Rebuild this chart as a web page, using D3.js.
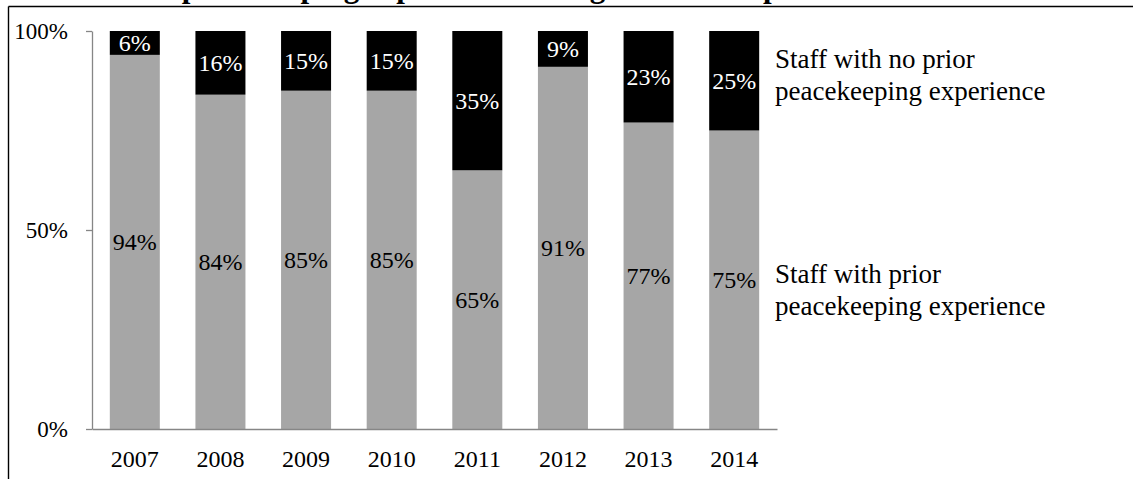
<!DOCTYPE html>
<html>
<head>
<meta charset="utf-8">
<script src="https://cdn.jsdelivr.net/npm/d3@7/dist/d3.min.js"></script>
<style>
  html, body { margin: 0; padding: 0; background: #fff; }
  svg { display: block; }
  svg text { font-family: "Liberation Serif", "Tinos", "Times New Roman", "DejaVu Serif", serif !important; }
</style>
</head>
<body>
<svg id="chart" width="1133" height="479"></svg>
<script>
// Recruitment years
const years = ["2007", "2008", "2009", "2010", "2011", "2012", "2013", "2014"];
// Share of staff with prior peacekeeping experience (%)
const withPrior = [94, 84, 85, 85, 65, 91, 77, 75];
// Share of staff with no prior peacekeeping experience (%)
const noPrior = [6, 16, 15, 15, 35, 9, 23, 25];
// Y axis ticks (fractions)
const yTicks = [0, 0.5, 1];
// Series names shown beside the last column
const seriesNames = [
  ["Staff with no prior", "peacekeeping experience"],
  ["Staff with prior", "peacekeeping experience"]
];
const titleText = "Prior peacekeeping experience among SMG Staff per mission 2007-2014";

const serif = "'Liberation Serif', 'Tinos', 'Times New Roman', 'DejaVu Serif', serif";
const svg = d3.select("#chart");
const axisColor = "#868686";
const greyFill = "#a6a6a6";

// Outer frame (top and left edges)
svg.append("line").attr("x1", 8.5).attr("x2", 1133).attr("y1", 6.5).attr("y2", 6.5)
  .attr("stroke", "#000").attr("stroke-width", 1.4);
svg.append("line").attr("x1", 8.5).attr("x2", 8.5).attr("y1", 6.5).attr("y2", 479)
  .attr("stroke", "#000").attr("stroke-width", 1.4);

// Title (sits above the frame, only its lowest strokes fall inside the page)
svg.append("text")
  .attr("x", 104).attr("y", -3)
  .attr("font-family", serif)
  .attr("font-size", 31).attr("font-weight", "bold")
  .attr("fill", "#000")
  .text(titleText);

const x = d3.scaleBand().domain(years).range([92, 777])
  .paddingInner(0.416).paddingOuter(0.208);
const y = d3.scaleLinear().domain([0, 1]).range([429, 31]);

const rows = years.map((yr, i) => ({ year: yr, a: withPrior[i] / 100, b: noPrior[i] / 100 }));
const stack = d3.stack().keys(["a", "b"])(rows);
const fills = { a: greyFill, b: "#000" };
const labelFills = { a: "#000", b: "#fff" };

const g = svg.append("g");
stack.forEach(layer => {
  g.selectAll(null).data(layer).enter().append("rect")
    .attr("x", d => x(d.data.year))
    .attr("width", x.bandwidth())
    .attr("y", d => y(d[1]))
    .attr("height", d => y(d[0]) - y(d[1]))
    .attr("fill", fills[layer.key]);
});

// Segment value labels
stack.forEach(layer => {
  g.selectAll(null).data(layer).enter().append("text")
    .attr("x", d => x(d.data.year) + x.bandwidth() / 2)
    .attr("y", d => (y(d[0]) + y(d[1])) / 2)
    .attr("dy", "0.34em")
    .attr("text-anchor", "middle")
    .attr("font-family", serif)
    .attr("font-size", 24)
    .attr("fill", labelFills[layer.key])
    .text(d => Math.round(d.data[layer.key] * 100) + "%");
});

// Y axis
const yAxis = svg.append("g").attr("transform", "translate(92,0)")
  .call(d3.axisLeft(y).tickValues(yTicks).tickSize(6).tickSizeOuter(0).tickPadding(18)
    .tickFormat(d3.format(".0%")))
  .attr("font-family", serif);
yAxis.select(".domain").attr("stroke", axisColor).attr("stroke-width", 1.3);
yAxis.selectAll(".tick line").attr("stroke", axisColor).attr("stroke-width", 1.3);
yAxis.selectAll(".tick text").attr("font-size", 23).attr("fill", "#000");

// X axis
const xAxis = svg.append("g").attr("transform", "translate(0,429)")
  .call(d3.axisBottom(x).tickSize(0).tickPadding(21))
  .attr("font-family", serif);
xAxis.select(".domain").attr("stroke", axisColor).attr("stroke-width", 1.3);
xAxis.selectAll(".tick text").attr("font-size", 24).attr("fill", "#000");

// Series names
const nameY = [68, 283];
seriesNames.forEach((lines, i) => {
  const t = svg.append("text").attr("x", 775).attr("y", nameY[i])
    .attr("font-family", serif)
    .attr("font-size", 27).attr("fill", "#000");
  lines.forEach((ln, j) => {
    t.append("tspan").attr("x", 775).attr("dy", j === 0 ? 0 : 32).text(ln);
  });
});
</script>
</body>
</html>
